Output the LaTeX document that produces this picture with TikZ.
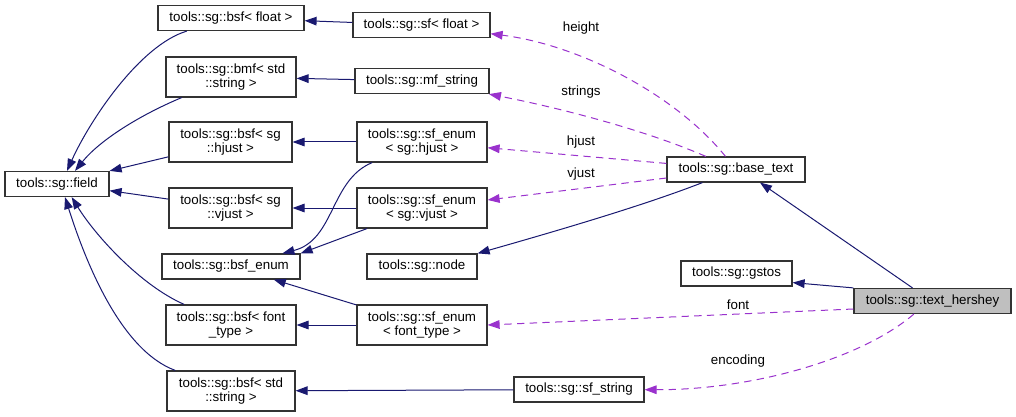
\documentclass[tikz,border=0pt]{standalone}
\usepackage{fontspec}
\setmainfont{Liberation Sans}
\usetikzlibrary{arrows.meta}

\definecolor{inhblue}{HTML}{191970}
\definecolor{mbrpurple}{HTML}{9A32CD}

\tikzstyle{cls} = [minimum height=18.75pt, inner sep=0pt, rectangle, style={fill=white,draw=black!80,line width=0.9pt}]
\tikzstyle{clstwo} = [cls, minimum height=30pt, align=center]
\tikzstyle{inh} = [-{Triangle[length=9pt,width=6.5pt]}, style={draw=inhblue,line width=0.75pt}]
\tikzstyle{mbr} = [-{Triangle[length=9pt,width=6.5pt]}, style={draw=mbrpurple,line width=0.75pt,dash pattern=on 5.5pt off 4pt}]
\tikzstyle{lbl} = [inner sep=0pt]

\begin{document}
\begin{tikzpicture}[x=0.75pt, y=-0.75pt, font=\fontsize{10}{10.5}\selectfont]
\useasboundingbox (0,0) rectangle (1016,417);

% Base fields
	\node[cls, minimum width=78pt] at (57,184) (field) {tools::sg::field};
	\node[cls, minimum width=109.5pt] at (231,18) (bsffloat) {tools::sg::bsf< float >};
	\node[clstwo, minimum width=97.5pt] at (231,77) (bmfstring) {tools::sg::bmf< std\\::string >};
	\node[clstwo, minimum width=92.25pt] at (230.5,142) (bsfhjust) {tools::sg::bsf< sg\\::hjust >};
	\node[clstwo, minimum width=92.25pt] at (230.5,208) (bsfvjust) {tools::sg::bsf< sg\\::vjust >};
	\node[cls, minimum width=103.5pt] at (231,266.5) (bsfenum) {tools::sg::bsf\_enum};
	\node[clstwo, minimum width=97.5pt] at (231,325) (bsffont) {tools::sg::bsf< font\\\_type >};
	\node[clstwo, minimum width=96pt] at (231,391) (bsfstring) {tools::sg::bsf< std\\::string >};

% Single fields
	\node[cls, minimum width=102.75pt] at (421.5,25) (sffloat) {tools::sg::sf< float >};
	\node[cls, minimum width=100.5pt] at (422,81) (mfstring) {tools::sg::mf\_string};
	\node[clstwo, minimum width=97.5pt] at (422,142) (sfhjust) {tools::sg::sf\_enum\\< sg::hjust >};
	\node[clstwo, minimum width=97.5pt] at (422,208) (sfvjust) {tools::sg::sf\_enum\\< sg::vjust >};
	\node[cls, minimum width=82.5pt] at (422,266.5) (sgnode) {tools::sg::node};
	\node[clstwo, minimum width=97.5pt] at (422,325) (sffont) {tools::sg::sf\_enum\\< font\_type >};
	\node[cls, minimum width=97.5pt] at (579,389.5) (sfstring) {tools::sg::sf\_string};

% Text classes
	\node[cls, minimum width=103.5pt] at (736,169.5) (basetext) {tools::sg::base\_text};
	\node[cls, minimum width=83.25pt] at (736.5,273.5) (gstos) {tools::sg::gstos};
	\node[cls, minimum width=117.75pt, fill=black!25] at (932.5,301) (hershey) {tools::sg::text\_hershey};

% Inheritance towards field
	\draw[inh] (bsffloat) .. controls (140,45) and (90,120) .. ([xshift=7.5pt]field.north);
	\draw[inh] (bmfstring) .. controls (140,115) and (100,140) .. ([xshift=13.5pt]field.north);
	\draw[inh] (bsfhjust) -- (field.north east);
	\draw[inh] (bsfvjust) -- ([yshift=-5pt]field.east);
	\draw[inh] (bsffont) .. controls (140,285) and (95,235) .. ([xshift=11pt]field.south);
	\draw[inh] (bsfstring) .. controls (120,350) and (85,260) .. ([xshift=6pt]field.south);

% Inheritance of single fields
	\draw[inh] (sffloat) -- (bsffloat);
	\draw[inh] (mfstring) -- (bmfstring);
	\draw[inh] (sfhjust) -- (bsfhjust);
	\draw[inh] (sfvjust) -- (bsfvjust);
	\draw[inh] (sffont) -- (bsffont);
	\draw[inh] (sfstring) -- (bsfstring);
	\draw[inh] (sfhjust) .. controls (330,180) and (335,240) .. (bsfenum);
	\draw[inh] (sfvjust) -- (bsfenum.north east);
	\draw[inh] (sffont) -- (bsfenum);

% Inheritance of text classes
	\draw[inh] (basetext) .. controls (645,205) and (560,230) .. (sgnode.north east);
	\draw[inh] ([xshift=-15pt]hershey.north) -- ([xshift=18pt]basetext.south);
	\draw[inh] (hershey.north west) -- ([yshift=3pt]gstos.south east);

% Members
	\draw[mbr] (basetext) .. controls (676,95) and (580,45) .. (sffloat);
	\draw[mbr] (basetext) .. controls (645,130) and (560,108) .. (mfstring);
	\draw[mbr] (basetext) -- (sfhjust);
	\draw[mbr] (basetext) -- (sfvjust);
	\draw[mbr] ([yshift=-6pt]hershey.west) -- (sffont.east);
	\draw[mbr] ([xshift=-14pt]hershey.south) .. controls (860,360) and (750,390) .. (sfstring);

% Member labels
	\node[lbl] at (581,28) (lheight) {height};
	\node[lbl] at (581,92) (lstrings) {strings};
	\node[lbl] at (581,142) (lhjust) {hjust};
	\node[lbl] at (581,174) (lvjust) {vjust};
	\node[lbl] at (738,305) (lfont) {font};
	\node[lbl] at (738,361) (lencoding) {encoding};

\end{tikzpicture}
\end{document}
